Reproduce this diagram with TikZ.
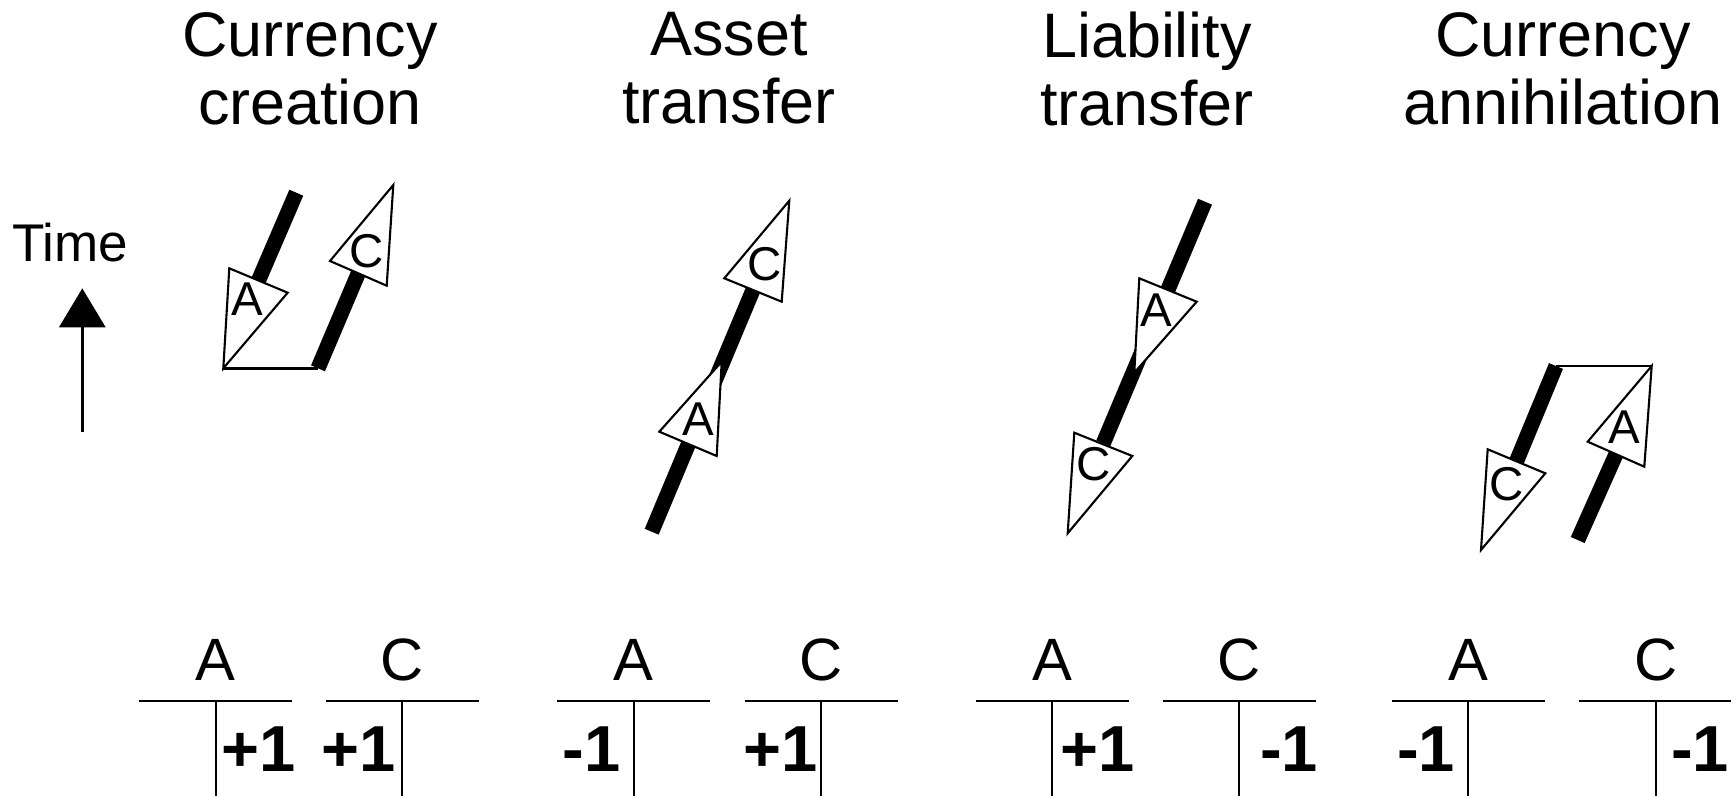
\documentclass[tikz,border=0pt]{standalone}
\usepackage{fontspec}
\setmainfont{Liberation Sans}
\usetikzlibrary{arrows.meta}

\begin{document}
\begin{tikzpicture}[
  bar/.style={line width=4.3pt},
  head/.style={draw,fill=white,line width=0.6pt},
  link/.style={line width=0.8pt},
  rule/.style={line width=0.85pt},
  stem/.style={line width=0.6pt},
  title/.style={align=center,anchor=north,inner sep=0pt,font=\fontsize{17.9pt}{19.4pt}\selectfont},
  tag/.style={inner sep=0pt,font=\fontsize{13.5pt}{14pt}\selectfont},
  owner/.style={anchor=base,inner sep=0pt,font=\fontsize{17pt}{18pt}\selectfont},
  entry/.style={anchor=base,inner sep=0pt,font=\fontsize{18.5pt}{19pt}\selectfont\bfseries}]
  \useasboundingbox (0,0) rectangle (17.31,7.96);

  % Time axis
  \node[anchor=base,inner sep=0pt,font=\fontsize{15.1pt}{16pt}\selectfont] (time) at (0.70,5.343) {Time};
  \coordinate (t0) at (0.823,3.643);
  \coordinate (t1) at (0.823,5.077);
  \draw[line width=0.85pt,-{Triangle[length=0.39cm,width=0.46cm]}] (t0) -- (t1);

  % Currency creation
  \node[title] (title1) at (3.10,7.845) {Currency\\creation};
  \coordinate (a1tip) at (2.233,4.277);
  \coordinate (c1foot) at (3.18,4.277);
  \draw[bar] (2.963,6.033) -- (2.585,5.155);
  \draw[head] (2.293,5.277) -- (2.877,5.033) -- (a1tip) -- cycle;
  \node[tag] (a1) at (2.473,4.973) {A};
  \draw[link] (a1tip) -- (c1foot);
  \draw[bar] (c1foot) -- (3.583,5.227);
  \draw[head] (3.933,6.11) -- (3.30,5.35) -- (3.867,5.103) -- cycle;
  \node[tag] (c1) at (3.665,5.445) {C};

  % Asset transfer
  \node[title] (title2) at (7.29,7.845) {Asset\\transfer};
  \draw[bar] (6.517,2.643) -- (7.53,5.06);
  \draw[head] (6.593,3.643) -- (7.167,3.40) -- (7.217,4.343) -- cycle;
  \node[tag] (a2) at (6.985,3.773) {A};
  \draw[head] (7.893,5.953) -- (7.243,5.177) -- (7.817,4.943) -- cycle;
  \node[tag] (c2) at (7.647,5.322) {C};

  % Liability transfer
  \node[title] (title3) at (11.47,7.845) {Liability\\transfer};
  \draw[bar] (12.05,5.943) -- (11.033,3.527);
  \draw[head] (11.393,5.177) -- (11.967,4.943) -- (11.343,4.233) -- cycle;
  \node[tag] (a3) at (11.567,4.86) {A};
  \draw[head] (10.743,3.633) -- (11.323,3.40) -- (10.677,2.627) -- cycle;
  \node[tag] (c3) at (10.933,3.318) {C};

  % Currency annihilation
  \node[title] (title4) at (15.63,7.845) {Currency\\annihilation};
  \coordinate (c4top) at (15.56,4.30);
  \coordinate (a4tip) at (16.517,4.30);
  \draw[bar] (c4top) -- (15.165,3.347);
  \draw[head] (14.877,3.467) -- (15.453,3.227) -- (14.81,2.46) -- cycle;
  \node[tag] (c4) at (15.068,3.122) {C};
  \draw[link] (c4top) -- (a4tip);
  \draw[bar] (15.777,2.56) -- (16.16,3.418);
  \draw[head] (a4tip) -- (15.877,3.543) -- (16.443,3.293) -- cycle;
  \node[tag] (a4) at (16.248,3.685) {A};

  % T accounts
  \draw[rule] (1.392,0.95) -- (2.922,0.95); \draw[stem] (2.157,0.95) -- (2.157,0);
  \node[owner] (hA1) at (2.157,1.16) {A};
  \node[entry] (vA1) at (2.59,0.243) {+1};
  \draw[rule] (3.258,0.95) -- (4.788,0.95); \draw[stem] (4.023,0.95) -- (4.023,0);
  \node[owner] (hC1) at (4.023,1.16) {C};
  \node[entry] (vC1) at (3.585,0.243) {+1};

  \draw[rule] (5.574,0.95) -- (7.104,0.95); \draw[stem] (6.339,0.95) -- (6.339,0);
  \node[owner] (hA2) at (6.339,1.16) {A};
  \node[entry] (vA2) at (5.915,0.243) {-1};
  \draw[rule] (7.446,0.95) -- (8.976,0.95); \draw[stem] (8.211,0.95) -- (8.211,0);
  \node[owner] (hC2) at (8.211,1.16) {C};
  \node[entry] (vC2) at (7.804,0.243) {+1};

  \draw[rule] (9.757,0.95) -- (11.287,0.95); \draw[stem] (10.522,0.95) -- (10.522,0);
  \node[owner] (hA3) at (10.522,1.16) {A};
  \node[entry] (vA3) at (10.98,0.243) {+1};
  \draw[rule] (11.629,0.95) -- (13.159,0.95); \draw[stem] (12.394,0.95) -- (12.394,0);
  \node[owner] (hC3) at (12.394,1.16) {C};
  \node[entry] (vC3) at (12.89,0.243) {-1};

  \draw[rule] (13.918,0.95) -- (15.448,0.95); \draw[stem] (14.683,0.95) -- (14.683,0);
  \node[owner] (hA4) at (14.683,1.16) {A};
  \node[entry] (vA4) at (14.26,0.243) {-1};
  \draw[rule] (15.791,0.95) -- (17.321,0.95); \draw[stem] (16.556,0.95) -- (16.556,0);
  \node[owner] (hC4) at (16.556,1.16) {C};
  \node[entry] (vC4) at (17.00,0.243) {-1};
\end{tikzpicture}
\end{document}
